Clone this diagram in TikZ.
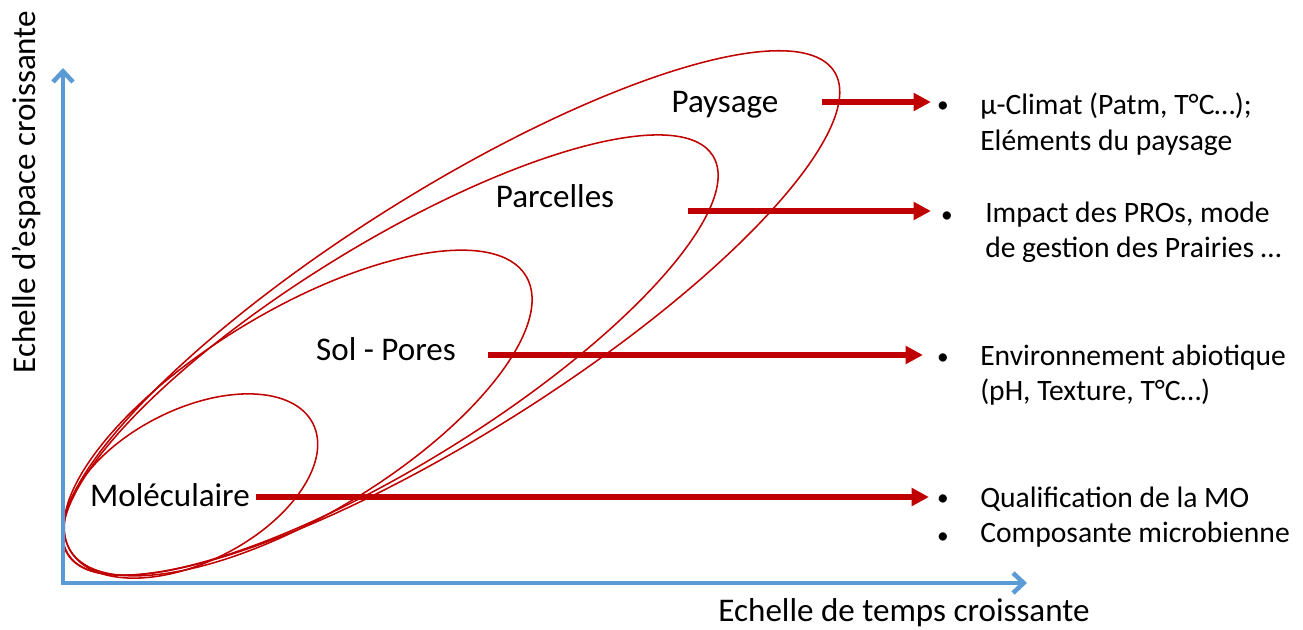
\documentclass[tikz,border=0pt]{standalone}
\usepackage{fontspec}
\setmainfont{Carlito}
\usetikzlibrary{arrows.meta}
\definecolor{axisblue}{HTML}{5B9BD5}
\definecolor{darkred}{HTML}{C00000}
\begin{document}
\begin{tikzpicture}[x=0.75pt,y=-0.75pt,
  axis/.style={draw=axisblue, line width=3.4pt, line join=miter,
    {Straight Barb[length=8pt,width=15pt,line width=3.4pt]}-{Straight Barb[length=8pt,width=15pt,line width=3.4pt]}},
  zone/.style={draw=darkred, line width=1.15pt},
  redarrow/.style={draw=darkred, line width=4.3pt, -{Triangle[length=13pt,width=13pt]}},
  bigtxt/.style={font=\fontsize{24.8}{30}\selectfont, inner sep=0pt},
  listtxt/.style={font=\fontsize{22.2}{27.5}\selectfont, inner sep=0pt, anchor=base west},
  bul/.style={font=\fontsize{17.5}{20}\selectfont, inner sep=0pt}]
\useasboundingbox (0,0) rectangle (1303,629);

% zones
\draw[zone, rotate around={32.2:(451,313)}] (451,313) ellipse [x radius=339.75pt, y radius=90.75pt];
\draw[zone, rotate around={31.7:(390.5,355)}] (390.5,355) ellipse [x radius=284.25pt, y radius=82.5pt];
\draw[zone, rotate around={31:(298,413)}] (298,413) ellipse [x radius=199.5pt, y radius=77pt];
\draw[zone, rotate around={27.2:(191,486)}] (191,486) ellipse [x radius=102.75pt, y radius=57pt];

% axes
\coordinate (O) at (63,583);
\coordinate (ytip) at (63,68);
\coordinate (xtip) at (1027,583);
\draw[axis] (ytip) -- (O) -- (xtip);
\node[bigtxt, anchor=base] (xlab) at (904,621) {Echelle de temps croissante};
\node[bigtxt, anchor=base, rotate=90] (ylab) at (36,192) {Echelle d’espace croissante};

% scale labels
\node[bigtxt, anchor=base] (pay) at (725,112) {Paysage};
\node[bigtxt, anchor=base] (par) at (555,207) {Parcelles};
\node[bigtxt, anchor=base] (sol) at (386,360) {Sol - Pores};
\node[bigtxt, anchor=base] (mol) at (170,506) {Moléculaire};

% bullets and texts
\node[bul] (b1) at (943,107) {•};
\node[bul] (b2) at (947,217) {•};
\node[bul] (b3) at (943,359) {•};
\node[bul] (b4) at (943,500) {•};
\node[bul] (b5) at (943,538) {•};
\node[listtxt] (t1a) at (980,114) {µ-Climat (Patm, T°C…);};
\node[listtxt] (t1b) at (980,150) {Eléments du paysage};
\node[listtxt] (t2a) at (985,222) {Impact des PROs, mode};
\node[listtxt] (t2b) at (985,257) {de gestion des Prairies …};
\node[listtxt] (t3a) at (980,365) {Environnement abiotique};
\node[listtxt] (t3b) at (980,400) {(pH, Texture, T°C…)};
\node[listtxt] (t4) at (980,507) {Qualification de la MO};
\node[listtxt] (t5) at (980,542) {Composante microbienne};

% arrows
\coordinate (a1) at (822,102);
\coordinate (a2) at (688,211);
\coordinate (a3) at (488,355);
\coordinate (a4) at (256,497);
\draw[redarrow, shorten >=4.5pt] (a1) -- (a1 -| b1.west);
\draw[redarrow, shorten >=7.5pt] (a2) -- (a2 -| b2.west);
\draw[redarrow, shorten >=10.5pt] (a3) -- (a3 -| b3.west);
\draw[redarrow, shorten >=6pt] (a4) -- (a4 -| b4.west);
\end{tikzpicture}
\end{document}
